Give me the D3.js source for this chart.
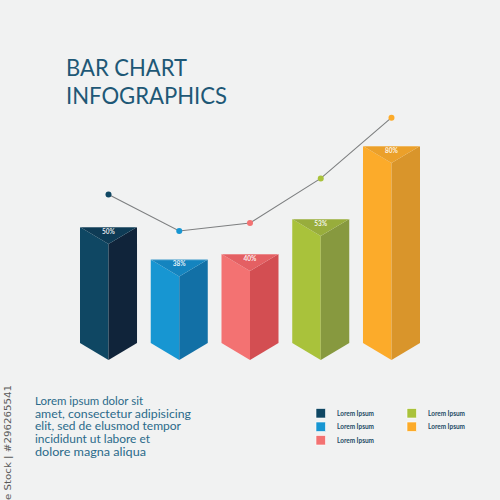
<!DOCTYPE html>
<html><head><meta charset="utf-8">
<script src="https://cdn.jsdelivr.net/npm/d3@7"></script>
<style>html,body{margin:0;padding:0;background:#f1f2f2;}svg{display:block;}</style>
</head><body>
<svg id="c" width="500" height="500"></svg>
<script>
const categories = ["A", "B", "C", "D", "E"];
const barValues = [50, 38, 40, 53, 80];
const barLabels = ["50%", "38%", "40%", "53%", "80%"];
const lineValues = [62, 48.5, 51.5, 68, 90.5];
const leftColors = ["#0f4763", "#1796d2", "#f37272", "#a9c23b", "#fcab2a"];
const rightColors = ["#10243a", "#1270a6", "#d34e52", "#87993f", "#d9952b"];
const topColors = ["#0e3b55", "#1484bf", "#e46063", "#98ad3c", "#eba02a"];
const legendLabels = ["Lorem Ipsum", "Lorem Ipsum", "Lorem Ipsum", "Lorem Ipsum", "Lorem Ipsum"];
const titleLines = ["BAR CHART", "INFOGRAPHICS"];
const bodyLines = ["Lorem ipsum dolor sit", "amet, consectetur adipisicing", "elit, sed de elusmod tempor", "incididunt ut labore et", "dolore magna aliqua"];

const svg = d3.select("#c");
svg.append("rect").attr("width", 500).attr("height", 500).attr("fill", "#f1f2f2");

const x = d3.scaleBand().domain(categories).range([80, 420]).paddingInner(0.194).paddingOuter(0);
const y = d3.scaleLinear().domain([0, 100]).range([362, 92]);
const base = 343, depth = 17;

// title
const titleWidths = [121, 161];
titleLines.forEach((t, i) => {
  svg.append("text").attr("x", 66).attr("y", 76 + i * 28)
    .attr("font-family", "Lato, 'Open Sans', sans-serif").attr("font-size", 22.5)
    .attr("fill", "#1e5876").attr("textLength", titleWidths[i]).attr("lengthAdjust", "spacingAndGlyphs")
    .text(t);
});

// bars
const g = svg.append("g");
categories.forEach((c, i) => {
  const x0 = x(c), x1 = x(c) + x.bandwidth(), xc = (x0 + x1) / 2;
  const t = y(barValues[i]);
  const pts = a => a.map(p => p.join(",")).join(" ");
  g.append("polygon").attr("points", pts([[x0, t], [xc, t + depth], [xc, base + depth], [x0, base]])).attr("fill", leftColors[i]);
  g.append("polygon").attr("points", pts([[xc, t + depth], [x1, t], [x1, base], [xc, base + depth]])).attr("fill", rightColors[i]);
  g.append("polygon").attr("points", pts([[x0, t], [x1, t], [xc, t + depth]])).attr("fill", topColors[i]);
  g.append("line").attr("x1", x0).attr("x2", x1).attr("y1", t + 0.5).attr("y2", t + 0.5)
    .attr("stroke", "#ffffff").attr("stroke-opacity", 0.25).attr("stroke-width", 1);
  g.append("text").attr("x", xc).attr("y", t + 7).attr("text-anchor", "middle")
    .attr("font-family", "Lato, sans-serif").attr("font-weight", "bold").attr("font-size", 6.5)
    .attr("fill", "#ffffff").attr("fill-opacity", 0.9).text(barLabels[i]);
});

// line
const line = d3.line().x((d, i) => x(categories[i]) + x.bandwidth() / 2).y(d => y(d));
svg.append("path").datum(lineValues).attr("d", line).attr("fill", "none")
  .attr("stroke", "#7d7f80").attr("stroke-width", 1.1);
svg.selectAll("circle.pt").data(lineValues).enter().append("circle")
  .attr("cx", (d, i) => x(categories[i]) + x.bandwidth() / 2).attr("cy", d => y(d))
  .attr("r", 3).attr("fill", (d, i) => leftColors[i]);

// paragraph
const bodyWidths = [108, 156, 146, 115, 111];
bodyLines.forEach((t, i) => {
  svg.append("text").attr("x", 35).attr("y", 405 + i * 12.7)
    .attr("font-family", "Lato, 'Open Sans', sans-serif").attr("font-size", 10.5)
    .attr("fill", "#2b6a8a").attr("textLength", bodyWidths[i]).attr("lengthAdjust", "spacingAndGlyphs")
    .text(t);
});

// legend
const legendPos = [[316, 0], [316, 1], [316, 2], [407, 0], [407, 1]];
const legendOrder = [0, 1, 2, 3, 4];
legendOrder.forEach((k, i) => {
  const [lx, row] = legendPos[i];
  const ly = 408.5 + row * 13.5;
  svg.append("rect").attr("x", lx).attr("y", ly).attr("width", 9.5).attr("height", 9.5)
    .attr("fill", leftColors[k]).attr("stroke", "#ffffff").attr("stroke-width", 0.6);
  svg.append("text").attr("x", lx + 21).attr("y", ly + 7.2)
    .attr("font-family", "Lato, sans-serif").attr("font-weight", "bold").attr("font-size", 6.8)
    .attr("fill", "#1d4b66").attr("textLength", 37).attr("lengthAdjust", "spacingAndGlyphs")
    .text(legendLabels[k]);
});

// vertical credit text
svg.append("text").attr("transform", "translate(11,500) rotate(-90)")
  .attr("font-family", "'DejaVu Sans', sans-serif").attr("font-size", 8.5)
  .attr("fill", "#5a5a5a").attr("textLength", 115).attr("lengthAdjust", "spacingAndGlyphs")
  .text("e Stock | #296265541");
</script>
</body></html>
